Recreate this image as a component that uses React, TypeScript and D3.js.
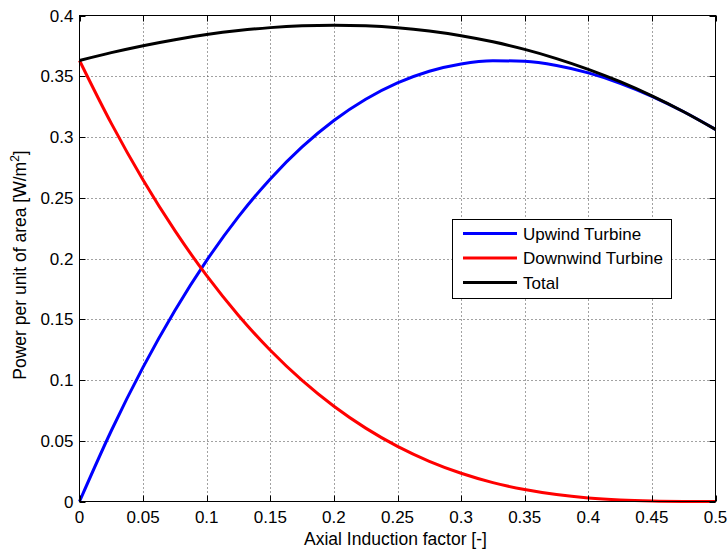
import React from "react";
import * as d3 from "d3";

const aValues = [0, 0.025, 0.05, 0.075, 0.1, 0.125, 0.15, 0.175, 0.2, 0.225, 0.25, 0.275, 0.3, 0.325, 0.35, 0.375, 0.4, 0.425, 0.45, 0.475, 0.5];
const upwind = [0, 0.05823, 0.11056, 0.15722, 0.19845, 0.23447, 0.26552, 0.29182, 0.3136, 0.33109, 0.34453, 0.35414, 0.36015, 0.36279, 0.36229, 0.35889, 0.3528, 0.34426, 0.33351, 0.32076, 0.30625];
const downwind = [0.36296, 0.31119, 0.2646, 0.2229, 0.18584, 0.15312, 0.1245, 0.09968, 0.0784, 0.06039, 0.04537, 0.03307, 0.02323, 0.01556, 0.0098, 0.00567, 0.0029, 0.00123, 0.00036, 0.00005, 0];
const total = [0.36296, 0.36942, 0.37516, 0.38012, 0.38429, 0.38759, 0.39002, 0.3915, 0.392, 0.39148, 0.3899, 0.38721, 0.38338, 0.37835, 0.37209, 0.36456, 0.3557, 0.34549, 0.33387, 0.32081, 0.30625];
const xTicks = [0, 0.05, 0.1, 0.15, 0.2, 0.25, 0.3, 0.35, 0.4, 0.45, 0.5];
const yTicks = [0, 0.05, 0.1, 0.15, 0.2, 0.25, 0.3, 0.35, 0.4];
const seriesNames = ["Upwind Turbine", "Downwind Turbine", "Total"];
const seriesColors = ["#0000ff", "#ff0000", "#000000"];

export default function App() {
  const W = 728, H = 552;
  const L = 79.5, R = 715.5, T = 15.5, B = 501.5;
  const x = d3.scaleLinear().domain([0, 0.5]).range([L, R]);
  const y = d3.scaleLinear().domain([0, 0.4]).range([B, T]);
  const line = d3
    .line<[number, number]>()
    .x((d) => x(d[0]))
    .y((d) => y(d[1]))
    .curve(d3.curveMonotoneX);
  const series = [upwind, downwind, total];
  const font = "'Liberation Sans', Arial, Helvetica, sans-serif";
  const fmt = (v: number) => String(+v.toFixed(2));
  const lg = { x: 452.5, y: 219.5, w: 219, h: 79 };
  return (
    <svg width={W} height={H} style={{ position: "absolute", left: 0, top: 0 }} fontFamily={font}>
      <rect x={0} y={0} width={W} height={H} fill="#fff" />
      {xTicks.slice(1, -1).map((t) => (
        <line key={"gx" + t} x1={Math.round(x(t)) + 0.5} x2={Math.round(x(t)) + 0.5} y1={T} y2={B} stroke="#444" strokeWidth={1} strokeDasharray="1,3" />
      ))}
      {yTicks.slice(1, -1).map((t) => (
        <line key={"gy" + t} y1={Math.round(y(t)) + 0.5} y2={Math.round(y(t)) + 0.5} x1={L} x2={R} stroke="#444" strokeWidth={1} strokeDasharray="1,3" />
      ))}
      {series.map((s, i) => (
        <path key={i} d={line(aValues.map((a, j) => [a, s[j]] as [number, number])) || ""} fill="none" stroke={seriesColors[i]} strokeWidth={3} strokeLinejoin="round" />
      ))}
      <rect x={L} y={T} width={R - L} height={B - T} fill="none" stroke="#000" strokeWidth={1} />
      {xTicks.map((t) => (
        <g key={"tx" + t}>
          <line x1={Math.round(x(t)) + 0.5} x2={Math.round(x(t)) + 0.5} y1={B} y2={B - 6} stroke="#000" />
          <line x1={Math.round(x(t)) + 0.5} x2={Math.round(x(t)) + 0.5} y1={T} y2={T + 6} stroke="#000" />
          <text x={x(t)} y={B + 21} fontSize={17} textAnchor="middle">{fmt(t)}</text>
        </g>
      ))}
      {yTicks.map((t) => (
        <g key={"ty" + t}>
          <line y1={Math.round(y(t)) + 0.5} y2={Math.round(y(t)) + 0.5} x1={L} x2={L + 6} stroke="#000" />
          <line y1={Math.round(y(t)) + 0.5} y2={Math.round(y(t)) + 0.5} x1={R} x2={R - 6} stroke="#000" />
          <text x={L - 6} y={y(t) + 6} fontSize={17} textAnchor="end">{fmt(t)}</text>
        </g>
      ))}
      <text x={(L + R) / 2 - 2} y={545} fontSize={17.5} textAnchor="middle">Axial Induction factor [-]</text>
      <text transform={`translate(26,${265}) rotate(-90)`} fontSize={17.5} textAnchor="middle">
        Power per unit of area [W/m<tspan fontSize={12} dy={-7}>2</tspan><tspan dy={7}>]</tspan>
      </text>
      <rect x={lg.x} y={lg.y} width={lg.w} height={lg.h} fill="#fff" stroke="#000" strokeWidth={1} />
      {seriesNames.map((n, i) => (
        <g key={n}>
          <line x1={463} x2={517} y1={lg.y + 14 + i * 24.5} y2={lg.y + 14 + i * 24.5} stroke={seriesColors[i]} strokeWidth={3} />
          <text x={523} y={lg.y + 20 + i * 24.5} fontSize={17}>{n}</text>
        </g>
      ))}
    </svg>
  );
}
